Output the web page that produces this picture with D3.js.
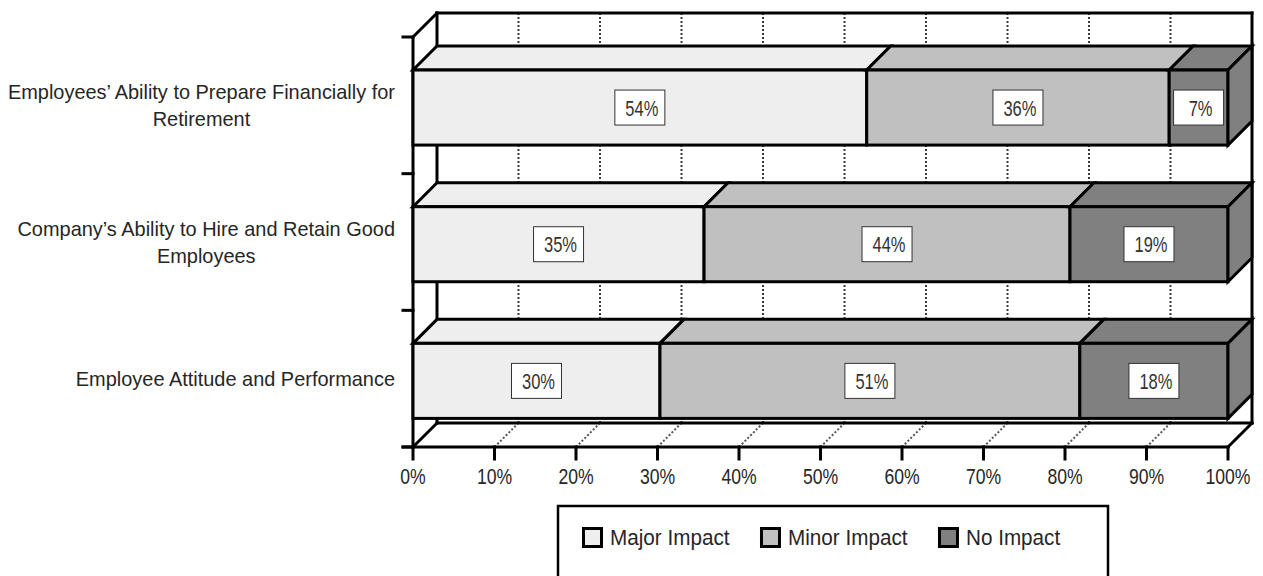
<!DOCTYPE html>
<html>
<head>
<meta charset="utf-8">
<script src="https://cdn.jsdelivr.net/npm/d3@7"></script>
<style>
  html, body { margin: 0; padding: 0; background: #fff; }
  svg { display: block; }
  text { font-family: "Liberation Sans", Arial, sans-serif; fill: #262626; }
</style>
</head>
<body>
<svg id="chart" width="1263" height="576"></svg>
<script>
// ---- data ----
const categories = [
  "Employees\u2019 Ability to Prepare Financially for Retirement",
  "Company\u2019s Ability to Hire and Retain Good Employees",
  "Employee Attitude and Performance"
];
const categoryLines = [
  ["Employees\u2019 Ability to Prepare Financially for", "Retirement"],
  ["Company\u2019s Ability to Hire and Retain Good", "Employees"],
  ["Employee Attitude and Performance"]
];
const seriesNames = ["Major Impact", "Minor Impact", "No Impact"];
const majorImpact = [54, 35, 30];
const minorImpact = [36, 44, 51];
const noImpact = [7, 19, 18];
const tickValues = [0, 0.1, 0.2, 0.3, 0.4, 0.5, 0.6, 0.7, 0.8, 0.9, 1.0];
const seriesColors = ["#eeeeee", "#c0c0c0", "#808080"];

// ---- layout ----
const svg = d3.select("#chart");
const x0 = 413, x1 = 1228, yTop = 37, yBot = 447;
const DX = 24, DY = 24; // depth offset (back = front + (DX, -DY))

const x = d3.scaleLinear().domain([0, 1]).range([x0, x1]);
const y = d3.scaleBand().domain(categories).range([yTop, yBot])
  .paddingInner(0.451).paddingOuter(0.2255).align(0.536);

const thick = 3;
const line = (a, b, c, d, w = thick, col = "#000", dash = null) => {
  const l = svg.append("line").attr("x1", a).attr("y1", b).attr("x2", c).attr("y2", d)
    .attr("stroke", col).attr("stroke-width", w).attr("stroke-linecap", "square");
  if (dash) l.attr("stroke-dasharray", dash).attr("stroke-linecap", "butt");
  return l;
};
// condensed-looking text: draw at origin, then translate + horizontal squeeze
const ctext = (parent, tx, ty, str, fs, sx, anchor) => parent.append("text")
  .attr("transform", `translate(${tx},${ty}) scale(${sx},1)`)
  .attr("text-anchor", anchor).attr("font-size", fs).text(str);

// back wall
svg.append("rect").attr("x", x0 + DX).attr("y", yTop - DY).attr("width", x1 - x0).attr("height", yBot - yTop).attr("fill", "#fff");

// gridlines on back wall and floor
tickValues.slice(1, -1).forEach(t => {
  const xf = x(t);
  line(xf + DX, yTop - DY, xf + DX, yBot - DY, 2, "#3a3a3a", "2 2");
  line(xf, yBot, xf + DX, yBot - DY, 2, "#555", "2 2");
});

// walls outlines
line(x0 + DX, yTop - DY, x1 + DX, yTop - DY);     // back top
line(x1 + DX, yTop - DY, x1 + DX, yBot - DY);     // back right
line(x0 + DX, yTop - DY, x0 + DX, yBot - DY);     // back left
line(x0 + DX, yBot - DY, x1 + DX, yBot - DY);     // floor back
line(x0, yTop, x0 + DX, yTop - DY);               // left wall top diag
line(x0, yBot, x0 + DX, yBot - DY);               // floor left diag
line(x1, yBot, x1 + DX, yBot - DY);               // floor right diag
line(x0, yTop, x0, yBot);                         // front left axis
line(x0 - 10, yBot, x1, yBot);                    // front bottom axis

// ticks
tickValues.forEach(t => line(x(t), yBot, x(t), yBot + 12));
d3.range(categories.length + 1).forEach(i => {
  const v = yTop + i * y.step();
  line(x0 - 10, v, x0, v);
});

// tick labels
const tg = svg.append("g");
tickValues.forEach(t => ctext(tg, x(t), 484, d3.format(".0%")(t), 22, 0.8, "middle"));

// bars
const barData = categories.map((c, i) => {
  const vals = [majorImpact[i], minorImpact[i], noImpact[i]];
  const tot = d3.sum(vals);
  let cum = 0;
  return vals.map((v, k) => {
    const s = { cat: c, k, v, a: cum / tot, b: (cum + v) / tot };
    cum += v;
    return s;
  });
});

barData.forEach(segs => {
  const g = svg.append("g");
  const yt = y(segs[0].cat), h = y.bandwidth();
  segs.forEach((s, idx) => {
    const xa = x(s.a), xb = x(s.b);
    g.append("path")
      .attr("d", `M${xa},${yt}L${xa + DX},${yt - DY}L${xb + DX},${yt - DY}L${xb},${yt}Z`)
      .attr("fill", seriesColors[s.k]).attr("stroke", "#000").attr("stroke-width", thick).attr("stroke-linejoin", "miter");
    g.append("rect").attr("x", xa).attr("y", yt).attr("width", xb - xa).attr("height", h)
      .attr("fill", seriesColors[s.k]).attr("stroke", "#000").attr("stroke-width", thick);
    if (idx === segs.length - 1) {
      g.append("path")
        .attr("d", `M${xb},${yt}L${xb + DX},${yt - DY}L${xb + DX},${yt + h - DY}L${xb},${yt + h}Z`)
        .attr("fill", seriesColors[s.k]).attr("stroke", "#000").attr("stroke-width", thick).attr("stroke-linejoin", "miter");
    }
  });
  segs.forEach(s => {
    const cx = (x(s.a) + x(s.b)) / 2, cy = yt + h / 2;
    g.append("rect").attr("x", cx - 25).attr("y", cy - 17.5).attr("width", 50).attr("height", 35)
      .attr("fill", "#fff").attr("stroke", "#333").attr("stroke-width", 1);
    ctext(g, cx + 2, cy + 8, s.v + "%", 22, 0.75, "middle").style("fill", "#333");
  });
});

// category labels: block right-aligned, lines centered in block
const catFs = 21, catSx = 0.95, lh = 27, right = 395;
categories.forEach((c, i) => {
  const lines = categoryLines[i];
  const bandCenter = yTop + y.step() * (i + 0.5);
  const g = svg.append("g");
  const texts = lines.map((ln, j) => ctext(g, 0, 0, ln, catFs, catSx, "middle"));
  const bw = d3.max(texts, t => t.node().getComputedTextLength()) * catSx;
  texts.forEach((t, j) => {
    const ty = bandCenter + (j - (lines.length - 1) / 2) * lh + catFs * 0.36;
    t.attr("transform", `translate(${right - bw / 2},${ty}) scale(${catSx},1)`);
  });
});

// legend
svg.append("rect").attr("x", 558).attr("y", 506).attr("width", 550).attr("height", 90)
  .attr("fill", "#fff").attr("stroke", "#000").attr("stroke-width", 2.5);
const lg = svg.append("g");
let lx = 583.5;
seriesNames.forEach((n, k) => {
  lg.append("rect").attr("x", lx).attr("y", 528.5).attr("width", 18).attr("height", 18)
    .attr("fill", seriesColors[k]).attr("stroke", "#000").attr("stroke-width", 3);
  const t = ctext(lg, lx + 26.5, 545, n, 22, 0.94, "start");
  lx += 26.5 + t.node().getComputedTextLength() * 0.94 + 32;
});
</script>
</body>
</html>
